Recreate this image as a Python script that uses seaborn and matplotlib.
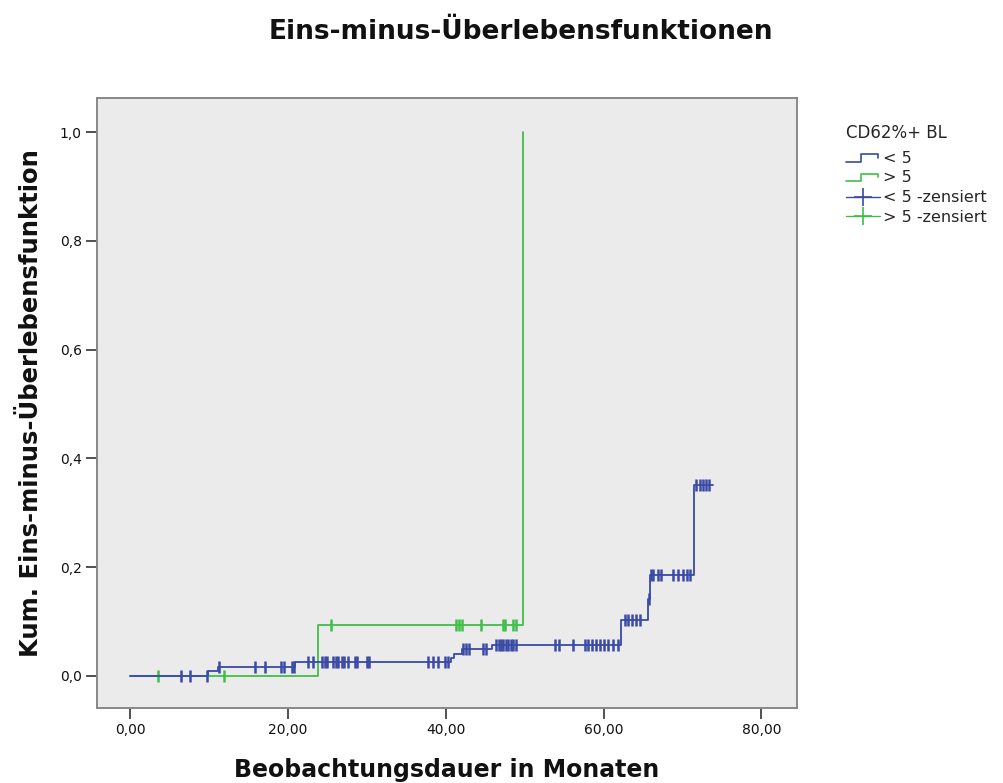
import numpy as np
import pandas as pd
import matplotlib
matplotlib.use("Agg")
import matplotlib.pyplot as plt
import seaborn as sns
from matplotlib.legend_handler import HandlerBase
from matplotlib.lines import Line2D

# ---- data ----
blue_step_t = [0.0, 9.9, 11.1, 20.9, 40.7, 41.1, 42.0, 45.8, 62.2, 65.6, 65.9, 71.5, 73.8]
blue_step_v = [0.0, 0.009, 0.017, 0.025, 0.033, 0.041, 0.049, 0.057, 0.102, 0.142, 0.186, 0.351, 0.351]
blue_cens_t = [6.5, 7.6, 9.8,
               11.3, 15.8, 17.1, 19.1, 19.5, 20.5, 20.7,
               22.6, 23.2, 24.3, 24.7, 25.0, 25.7, 26.1, 26.4, 26.8, 27.1, 27.6, 28.5, 28.8,
               30.0, 30.3, 37.8, 38.4, 39.0, 39.9, 40.3,
               42.2, 42.6, 43.0, 44.7, 45.1,
               46.4, 46.7, 47.0, 47.3, 47.6, 47.9, 48.2, 48.5, 48.9, 53.8, 54.4, 56.1,
               57.6, 58.0, 58.5, 59.0, 59.5, 60.0, 60.6, 61.2, 61.8,
               62.7, 63.1, 63.6, 64.1, 64.6,
               65.7,
               66.0, 66.2, 66.9, 67.3, 68.8, 69.4, 70.0, 70.5, 70.9,
               71.7, 72.2, 72.6, 73.0, 73.4]

green_step_t = [0.0, 23.8, 49.8]
green_step_v = [0.0, 0.094, 1.0]
green_cens_t = [3.5, 11.9, 25.4, 41.3, 41.7, 42.1, 44.5, 47.3, 47.5, 48.5, 48.9]

group_labels = ["< 5", "> 5", "< 5 -zensiert", "> 5 -zensiert"]
x_ticks = [0, 20, 40, 60, 80]
y_ticks = [0.0, 0.2, 0.4, 0.6, 0.8, 1.0]

BLUE = "#3a4aa6"
GREEN = "#3fbf48"


def step_level(times, values, t):
    idx = np.searchsorted(np.asarray(times), t, side="right") - 1
    return np.asarray(values)[idx]


blue_df = pd.DataFrame({"t": blue_step_t, "v": blue_step_v})
green_df = pd.DataFrame({"t": green_step_t, "v": green_step_v})
blue_c = pd.DataFrame({"t": blue_cens_t,
                       "v": step_level(blue_step_t, blue_step_v, blue_cens_t)})
green_c = pd.DataFrame({"t": green_cens_t,
                        "v": step_level(green_step_t, green_step_v, green_cens_t)})

sns.set_theme(style="white")
plt.rcParams["font.family"] = ["DejaVu Sans"]

fig = plt.figure(figsize=(10.04, 7.83), dpi=100)
ax = fig.add_axes([97 / 1004, 1 - 708 / 783, 700 / 1004, 610 / 783])
ax.set_facecolor("#ebebeb")

sns.lineplot(data=green_df, x="t", y="v", drawstyle="steps-post", color=GREEN,
             lw=1.3, estimator=None, sort=False, ax=ax)
sns.lineplot(data=blue_df, x="t", y="v", drawstyle="steps-post", color=BLUE,
             lw=1.3, estimator=None, sort=False, ax=ax)
sns.scatterplot(data=green_c, x="t", y="v", marker="|", s=75, color=GREEN,
                linewidth=1.8, ax=ax)
sns.scatterplot(data=blue_c, x="t", y="v", marker="|", s=75, color=BLUE,
                linewidth=1.8, ax=ax)

ax.set_xlim(-4.2, 84.5)
ax.set_ylim(-0.059, 1.063)
ax.set_xticks(x_ticks)
ax.set_xticklabels([f"{v:.2f}".replace(".", ",") for v in x_ticks])
ax.set_yticks(y_ticks)
ax.set_yticklabels([f"{v:.1f}".replace(".", ",") for v in y_ticks])
ax.tick_params(axis="both", which="major", direction="out", length=8, width=1.2,
               color="#333333", labelsize=10, labelcolor="#111111", pad=3,
               bottom=True, left=True)
for s in ax.spines.values():
    s.set_color("#888888")
    s.set_linewidth(1.4)

ax.set_xlabel("Beobachtungsdauer in Monaten", fontsize=17, fontweight="bold",
              labelpad=15, color="#111111")
ax.set_ylabel("Kum. Eins-minus-Überlebensfunktion", fontsize=17.5,
              fontweight="bold", labelpad=12, color="#111111")
fig.text(521 / 1004, 1 - 32 / 783, "Eins-minus-Überlebensfunktionen",
         ha="center", va="center", fontsize=19, fontweight="bold",
         color="#111111")


class StepHandler(HandlerBase):
    def create_artists(self, legend, orig_handle, xdescent, ydescent,
                       width, height, fontsize, trans):
        x0 = -xdescent
        xs = [x0, x0 + width * 0.45, x0 + width * 0.45, x0 + width * 0.95,
              x0 + width * 0.95]
        ys = [height * 0.1, height * 0.1, height * 0.8, height * 0.8, height * 0.45]
        ln = Line2D(xs, ys, color=orig_handle.get_color(), lw=1.2)
        ln.set_transform(trans)
        return [ln]


h_blue = Line2D([], [], color=BLUE)
h_green = Line2D([], [], color=GREEN)
h_bc = Line2D([], [], color=BLUE, marker="+", markersize=13, lw=1.0,
              markeredgewidth=1.2)
h_gc = Line2D([], [], color=GREEN, marker="+", markersize=13, lw=1.0,
              markeredgewidth=1.2)
leg = fig.legend([h_blue, h_green, h_bc, h_gc], group_labels,
                 loc="upper left", bbox_to_anchor=(832 / 1004, 1 - 110 / 783),
                 frameon=False, fontsize=11.5, title="CD62%+ BL",
                 title_fontsize=12, handlelength=2.1, handletextpad=0.2,
                 labelspacing=0.3, alignment="left", borderaxespad=0.5,
                 handler_map={h_blue: StepHandler(), h_green: StepHandler()})
leg._legend_box.sep = 6

fig.savefig("out.png", dpi=100, facecolor="white")
